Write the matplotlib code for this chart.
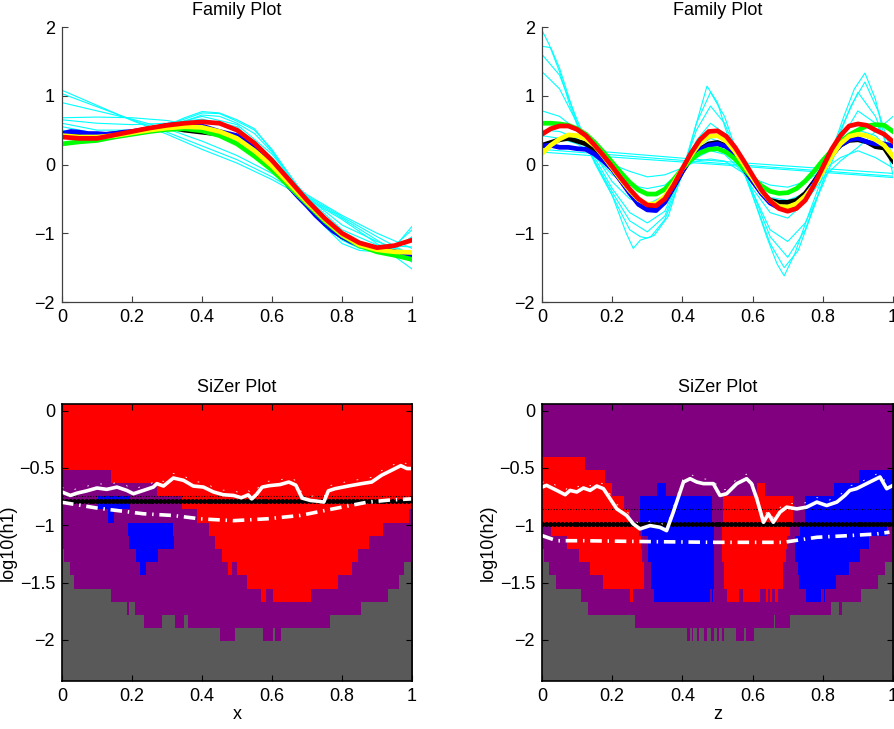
import numpy as np
import matplotlib
matplotlib.use('Agg')
import matplotlib.pyplot as plt
from matplotlib.colors import ListedColormap

plt.rcParams['font.family'] = ['Liberation Sans', 'DejaVu Sans']
plt.rcParams['font.size'] = 13

# ---------------- family plots : sample positions ----------------
x20 = [0, 0.05, 0.1, 0.15, 0.2, 0.25, 0.3, 0.35, 0.4, 0.45, 0.5,
       0.55, 0.6, 0.65, 0.7, 0.75, 0.8, 0.85, 0.9, 0.95, 1.0]
x10 = [0, 0.1, 0.2, 0.3, 0.4, 0.5, 0.6, 0.7, 0.8, 0.9, 1.0]
x40 = [0, 0.025, 0.05, 0.075, 0.1, 0.125, 0.15, 0.175, 0.2, 0.225, 0.25,
       0.275, 0.3, 0.325, 0.35, 0.375, 0.4, 0.425, 0.45, 0.475, 0.5,
       0.525, 0.55, 0.575, 0.6, 0.625, 0.65, 0.675, 0.7, 0.725, 0.75,
       0.775, 0.8, 0.825, 0.85, 0.875, 0.9, 0.925, 0.95, 0.975, 1.0]

# left family plot (x), cyan family of smooths
cyan_left = [
    (x10, [1.08, 0.86, 0.64, 0.44, 0.22, 0.02, -0.22, -0.50, -0.80, -1.15, -1.52]),
    (x10, [1.03, 0.84, 0.65, 0.47, 0.27, 0.07, -0.18, -0.48, -0.78, -1.10, -1.42]),
    (x10, [0.90, 0.78, 0.66, 0.52, 0.34, 0.13, -0.13, -0.46, -0.76, -1.05, -1.32]),
    (x10, [0.68, 0.69, 0.68, 0.64, 0.55, 0.30, -0.04, -0.44, -0.74, -1.00, -1.22]),
    (x10, [0.65, 0.60, 0.58, 0.60, 0.66, 0.55, 0.10, -0.47, -0.88, -1.12, -1.30]),
    (x10, [0.60, 0.50, 0.50, 0.57, 0.70, 0.58, 0.15, -0.48, -0.95, -1.17, -1.20]),
    (x20, [0.55, 0.50, 0.45, 0.45, 0.47, 0.51, 0.56, 0.63, 0.72, 0.70, 0.60, 0.45, 0.18,
           -0.15, -0.50, -0.82, -1.05, -1.17, -1.22, -1.22, -1.05]),
    (x20, [0.45, 0.42, 0.40, 0.41, 0.45, 0.51, 0.58, 0.66, 0.75, 0.74, 0.63, 0.50, 0.22,
           -0.15, -0.52, -0.85, -1.10, -1.22, -1.25, -1.18, -0.95]),
    (x20, [0.50, 0.45, 0.38, 0.38, 0.45, 0.50, 0.57, 0.68, 0.77, 0.75, 0.65, 0.52, 0.20,
           -0.20, -0.55, -0.90, -1.15, -1.25, -1.27, -1.20, -0.90]),
]

black_left = [0.42, 0.44, 0.42, 0.45, 0.47, 0.50, 0.55, 0.50, 0.47, 0.44, 0.40,
              0.22, 0.00, -0.30, -0.58, -0.85, -1.05, -1.15, -1.22, -1.27, -1.30]
blue_left = [0.45, 0.48, 0.47, 0.45, 0.45, 0.44, 0.45, 0.47, 0.48, 0.50, 0.52,
             0.54, 0.57, 0.58, 0.59, 0.57, 0.56, 0.52, 0.48, 0.45, 0.42,
             0.35, 0.24, 0.10, -0.03, -0.17, -0.33, -0.47, -0.60, -0.74, -0.86,
             -0.97, -1.05, -1.12, -1.17, -1.20, -1.23, -1.26, -1.27, -1.30, -1.33]
green_left = [0.30, 0.33, 0.35, 0.40, 0.44, 0.48, 0.51, 0.52, 0.49, 0.42, 0.30,
              0.12, -0.08, -0.32, -0.57, -0.82, -1.03, -1.18, -1.27, -1.32, -1.38]
yellow_left = [0.42, 0.40, 0.40, 0.42, 0.46, 0.50, 0.53, 0.55, 0.54, 0.48, 0.38,
               0.20, -0.02, -0.28, -0.55, -0.80, -1.02, -1.17, -1.24, -1.27, -1.28]
red_left = [0.40, 0.38, 0.38, 0.43, 0.48, 0.53, 0.57, 0.60, 0.62, 0.60, 0.50,
            0.31, 0.06, -0.23, -0.52, -0.78, -1.00, -1.14, -1.21, -1.18, -1.10]

# right family plot (z)
cyan_right = [
    ([0, 0.02, 0.05, 0.08, 0.12, 0.15, 0.2, 0.24, 0.26, 0.28, 0.31, 0.35, 0.4, 0.44, 0.47,
      0.5, 0.53, 0.56, 0.6, 0.64, 0.67, 0.69, 0.72, 0.76, 0.81, 0.86, 0.89, 0.92, 0.95, 0.98, 1.0],
     [1.95, 1.75, 1.35, 0.85, 0.30, 0.05, -0.45, -1.00, -1.22, -1.10, -1.05, -0.80, -0.15, 0.60, 1.14,
      0.90, 0.40, 0.10, -0.45, -1.05, -1.45, -1.62, -1.30, -0.72, -0.03, 0.70, 1.10, 1.33, 0.95, 0.30, -0.15]),
    ([0, 0.025, 0.05, 0.1, 0.15, 0.2, 0.25, 0.28, 0.3, 0.32, 0.36, 0.4, 0.44, 0.48, 0.52, 0.56,
      0.6, 0.65, 0.69, 0.73, 0.78, 0.83, 0.88, 0.92, 0.96, 1.0],
     [1.72, 1.70, 1.40, 0.60, 0.02, -0.45, -0.95, -1.05, -1.07, -1.03, -0.75, -0.10, 0.60, 1.05, 0.70, 0.10,
      -0.45, -1.15, -1.50, -1.25, -0.55, 0.20, 0.85, 1.20, 0.75, 0.10]),
    ([0, 0.05, 0.1, 0.15, 0.2, 0.25, 0.3, 0.35, 0.4, 0.44, 0.48, 0.52, 0.56, 0.6, 0.65, 0.7,
      0.75, 0.8, 0.85, 0.9, 0.95, 1.0],
     [1.60, 1.30, 0.65, 0.05, -0.40, -0.82, -0.98, -0.75, -0.10, 0.50, 0.85, 0.60, 0.10, -0.40, -1.05, -1.35,
      -0.95, -0.25, 0.50, 1.05, 0.70, 0.05]),
    ([0, 0.05, 0.1, 0.15, 0.2, 0.25, 0.3, 0.35, 0.4, 0.44, 0.48, 0.52, 0.56, 0.6, 0.65, 0.7,
      0.75, 0.8, 0.85, 0.9, 0.95, 1.0],
     [1.35, 1.10, 0.60, 0.10, -0.35, -0.70, -0.85, -0.68, -0.10, 0.35, 0.60, 0.45, 0.05, -0.40, -0.95, -1.12,
      -0.85, -0.30, 0.35, 0.78, 0.60, 0.25]),
    ([0, 0.05, 0.1, 0.15, 0.2, 0.25, 0.3, 0.35, 0.4, 0.44, 0.48, 0.52, 0.56, 0.6, 0.65, 0.7,
      0.75, 0.8, 0.85, 0.9, 0.95, 1.0],
     [0.78, 0.70, 0.50, 0.15, -0.25, -0.50, -0.58, -0.45, -0.08, 0.25, 0.38, 0.30, 0.00, -0.35, -0.70, -0.78,
      -0.55, -0.20, 0.05, 0.25, 0.48, 0.70]),
    ([0, 0.05, 0.1, 0.15, 0.2, 0.25, 0.3, 0.35, 0.4, 0.44, 0.48, 0.52, 0.56, 0.6, 0.65, 0.7,
      0.75, 0.8, 0.85, 0.9, 0.95, 1.0],
     [0.50, 0.48, 0.38, 0.12, -0.15, -0.30, -0.35, -0.30, -0.08, 0.10, 0.20, 0.15, -0.05, -0.28, -0.48, -0.52,
      -0.42, -0.10, 0.25, 0.50, 0.42, 0.15]),
    ([0, 0.05, 0.1, 0.15, 0.2, 0.25, 0.3, 0.35, 0.4, 0.44, 0.48, 0.52, 0.56, 0.6, 0.65, 0.7,
      0.75, 0.8, 0.85, 0.9, 0.95, 1.0],
     [0.42, 0.38, 0.30, 0.15, 0.00, -0.10, -0.18, -0.15, -0.05, 0.05, 0.08, 0.05, -0.08, -0.20, -0.30, -0.33,
      -0.25, -0.08, 0.10, 0.20, 0.10, -0.05]),
    ([0, 0.5, 1.0], [0.22, 0.02, -0.17]),
    ([0, 0.5, 1.0], [0.18, 0.00, -0.19]),
    ([0, 0.5, 1.0], [0.26, 0.05, -0.13]),
]

black_right = [0.28, 0.32, 0.36, 0.38, 0.34, 0.30, 0.20, 0.08, -0.06, -0.23, -0.40,
               -0.56, -0.64, -0.65, -0.54, -0.32, -0.10, 0.10, 0.22, 0.30, 0.32,
               0.27, 0.12, -0.06, -0.24, -0.40, -0.52, -0.55, -0.55, -0.52, -0.42,
               -0.25, -0.06, 0.14, 0.28, 0.35, 0.36, 0.33, 0.26, 0.24, 0.05]
blue_right = [0.27, 0.28, 0.25, 0.25, 0.23, 0.22, 0.15, 0.05, -0.07, -0.24, -0.42,
              -0.58, -0.66, -0.67, -0.55, -0.33, -0.10, 0.10, 0.22, 0.28, 0.30,
              0.26, 0.13, -0.05, -0.24, -0.42, -0.56, -0.63, -0.66, -0.60, -0.46,
              -0.27, -0.06, 0.14, 0.28, 0.36, 0.38, 0.33, 0.30, 0.30, 0.27]
green_right = [0.60, 0.60, 0.59, 0.57, 0.52, 0.44, 0.32, 0.18, 0.03, -0.12, -0.26,
               -0.37, -0.43, -0.43, -0.36, -0.22, -0.06, 0.07, 0.17, 0.22, 0.23,
               0.18, 0.08, -0.06, -0.19, -0.31, -0.39, -0.42, -0.41, -0.35, -0.24,
               -0.10, 0.06, 0.20, 0.33, 0.43, 0.50, 0.56, 0.58, 0.57, 0.48]
yellow_right = [0.16, 0.28, 0.37, 0.43, 0.42, 0.37, 0.27, 0.12, -0.05, -0.22, -0.38,
                -0.51, -0.58, -0.57, -0.46, -0.27, -0.06, 0.14, 0.31, 0.41, 0.42,
                0.34, 0.19, 0.00, -0.20, -0.39, -0.53, -0.61, -0.62, -0.57, -0.46,
                -0.30, -0.10, 0.12, 0.30, 0.41, 0.44, 0.42, 0.36, 0.28, 0.12]
red_right = [0.44, 0.52, 0.56, 0.56, 0.51, 0.42, 0.28, 0.13, -0.03, -0.20, -0.36,
             -0.50, -0.59, -0.60, -0.50, -0.30, -0.06, 0.17, 0.36, 0.48, 0.49,
             0.41, 0.25, 0.05, -0.16, -0.37, -0.53, -0.64, -0.68, -0.64, -0.52,
             -0.30, -0.04, 0.22, 0.42, 0.56, 0.59, 0.57, 0.50, 0.44, 0.33]

# ---------------- SiZer maps ----------------
# rows from largest bandwidth (top) to smallest; each row = (right edge, class)
# classes: R increasing, B decreasing, P not significant, G too sparse
sizer_left = [
    [(1, 'R')],
    [(1, 'R')],
    [(1, 'R')],
    [(1, 'R')],
    [(1, 'R')],
    [(0.139, 'P'), (1, 'R')],
    [(0.271, 'P'), (1, 'R')],
    [(0.103, 'P'), (0.193, 'B'), (0.343, 'P'), (1, 'R')],
    [(0.131, 'P'), (0.149, 'B'), (0.384, 'P'), (0.988, 'R'), (1, 'P')],
    [(0.187, 'P'), (0.317, 'B'), (0.419, 'P'), (0.916, 'R'), (1, 'P')],
    [(0.191, 'P'), (0.32, 'B'), (0.436, 'P'), (0.875, 'R'), (1, 'P')],
    [(0.006, 'G'), (0.21, 'P'), (0.274, 'B'), (0.457, 'P'), (0.843, 'R'), (0.994, 'P'), (1, 'G')],
    [(0.022, 'G'), (0.222, 'P'), (0.239, 'B'), (0.474, 'P'), (0.486, 'R'), (0.499, 'P'),
     (0.825, 'R'), (0.975, 'P'), (1, 'G')],
    [(0.034, 'G'), (0.527, 'P'), (0.785, 'R'), (0.96, 'P'), (1, 'G')],
    [(0.139, 'G'), (0.566, 'P'), (0.58, 'R'), (0.601, 'P'), (0.711, 'R'), (0.93, 'P'), (1, 'G')],
    [(0.186, 'G'), (0.19, 'P'), (0.209, 'G'), (0.851, 'P'), (1, 'G')],
    [(0.234, 'G'), (0.284, 'P'), (0.322, 'G'), (0.348, 'P'), (0.358, 'G'), (0.763, 'P'), (1, 'G')],
    [(0.449, 'G'), (0.493, 'P'), (0.572, 'G'), (0.602, 'P'), (0.607, 'G'), (0.625, 'P'), (1, 'G')],
    [(1, 'G')],
    [(1, 'G')],
    [(1, 'G')],
]

sizer_right = [
    [(1, 'P')],
    [(1, 'P')],
    [(1, 'P')],
    [(1, 'P')],
    [(0.122, 'R'), (1, 'P')],
    [(0.179, 'R'), (0.90, 'P'), (1, 'B')],
    [(0.20, 'R'), (0.328, 'P'), (0.352, 'B'), (0.61, 'P'), (0.632, 'R'), (0.83, 'P'), (1, 'B')],
    [(0.232, 'R'), (0.277, 'P'), (0.482, 'B'), (0.515, 'P'), (0.713, 'R'), (0.747, 'P'), (1, 'B')],
    [(0.25, 'R'), (0.277, 'P'), (0.482, 'B'), (0.515, 'P'), (0.713, 'R'), (0.747, 'P'), (1, 'B')],
    [(0.025, 'P'), (0.274, 'R'), (0.285, 'P'), (0.49, 'B'), (0.51, 'P'), (0.704, 'R'),
     (0.733, 'P'), (0.981, 'B'), (1, 'P')],
    [(0.07, 'P'), (0.28, 'R'), (0.302, 'P'), (0.49, 'B'), (0.51, 'P'), (0.697, 'R'),
     (0.718, 'P'), (0.928, 'B'), (1, 'P')],
    [(0.006, 'G'), (0.105, 'P'), (0.284, 'R'), (0.302, 'P'), (0.49, 'B'), (0.51, 'P'),
     (0.692, 'R'), (0.718, 'P'), (0.902, 'B'), (0.995, 'P'), (1, 'G')],
    [(0.02, 'G'), (0.137, 'P'), (0.289, 'R'), (0.311, 'P'), (0.49, 'B'), (0.518, 'P'),
     (0.684, 'R'), (0.727, 'P'), (0.873, 'B'), (0.975, 'P'), (1, 'G')],
    [(0.041, 'G'), (0.173, 'P'), (0.289, 'R'), (0.311, 'P'), (0.49, 'B'), (0.518, 'P'),
     (0.684, 'R'), (0.73, 'P'), (0.836, 'B'), (0.955, 'P'), (1, 'G')],
    [(0.112, 'G'), (0.251, 'P'), (0.258, 'R'), (0.319, 'P'), (0.478, 'B'), (0.482, 'P'),
     (0.486, 'B'), (0.526, 'P'), (0.561, 'R'), (0.571, 'P'), (0.62, 'R'), (0.637, 'P'),
     (0.642, 'R'), (0.647, 'P'), (0.652, 'R'), (0.661, 'P'), (0.669, 'R'), (0.751, 'P'),
     (0.792, 'B'), (0.80, 'P'), (0.805, 'B'), (0.906, 'P'), (1, 'G')],
    [(0.131, 'G'), (0.82, 'P'), (0.843, 'G'), (0.852, 'P'), (1, 'G')],
    [(0.264, 'G'), (0.659, 'P'), (0.663, 'G'), (0.704, 'P'), (1, 'G')],
    [(0.411, 'G'), (0.421, 'P'), (0.426, 'G'), (0.43, 'P'), (0.44, 'G'), (0.445, 'P'),
     (0.46, 'G'), (0.47, 'P'), (0.479, 'G'), (0.488, 'P'), (0.498, 'G'), (0.502, 'P'),
     (0.512, 'G'), (0.517, 'P'), (0.55, 'G'), (0.574, 'P'), (0.581, 'G'), (0.602, 'P'), (1, 'G')],
    [(1, 'G')],
    [(1, 'G')],
    [(1, 'G')],
]

# log10 bandwidth range of the map (row edges, top and bottom)
logh_top = 0.0575
logh_bottom = -2.3585

# overlay curves on the SiZer maps
white_x_left = [0, 0.024, 0.043, 0.071, 0.1, 0.128, 0.157, 0.185, 0.204, 0.233, 0.261, 0.271,
                0.29, 0.318, 0.347, 0.375, 0.404, 0.433, 0.461, 0.49, 0.512, 0.532, 0.542,
                0.556, 0.572, 0.592, 0.623, 0.648, 0.668, 0.686, 0.71, 0.73, 0.748, 0.761,
                0.78, 0.818, 0.856, 0.885, 0.913, 0.942, 0.968, 0.985, 1.0]
white_y_left = [-0.71, -0.74, -0.72, -0.70, -0.675, -0.687, -0.667, -0.696, -0.725, -0.696,
                -0.667, -0.637, -0.658, -0.588, -0.608, -0.658, -0.667, -0.71, -0.734, -0.74,
                -0.76, -0.735, -0.77, -0.73, -0.667, -0.655, -0.645, -0.623, -0.65, -0.763,
                -0.784, -0.79, -0.798, -0.70, -0.681, -0.658, -0.637, -0.623, -0.564, -0.52,
                -0.48, -0.505, -0.506]
dash_x_left = [0, 0.1, 0.233, 0.318, 0.394, 0.49, 0.585, 0.68, 0.775, 0.87, 0.936, 1.0]
dash_y_left = [-0.80, -0.85, -0.90, -0.915, -0.944, -0.96, -0.944, -0.915, -0.857, -0.80,
               -0.78, -0.77]
hsel_left = -0.786
hdot_left = -0.749

white_x_right = [0, 0.013, 0.042, 0.066, 0.08, 0.099, 0.118, 0.137, 0.156, 0.175, 0.194,
                 0.213, 0.241, 0.26, 0.279, 0.308, 0.336, 0.355, 0.374, 0.403, 0.422, 0.441,
                 0.46, 0.488, 0.507, 0.526, 0.555, 0.583, 0.597, 0.612, 0.631, 0.645, 0.659,
                 0.678, 0.697, 0.726, 0.754, 0.783, 0.811, 0.84, 0.863, 0.877, 0.896, 0.934,
                 0.963, 0.982, 1.0]
white_y_right = [-0.667, -0.652, -0.696, -0.734, -0.696, -0.71, -0.675, -0.696, -0.658,
                 -0.681, -0.769, -0.857, -0.915, -0.988, -1.032, -1.003, -1.018, -1.047,
                 -0.886, -0.623, -0.594, -0.623, -0.637, -0.637, -0.74, -0.725, -0.637,
                 -0.594, -0.637, -0.769, -0.974, -0.90, -0.974, -0.886, -0.842, -0.857,
                 -0.842, -0.798, -0.828, -0.798, -0.74, -0.696, -0.681, -0.623, -0.579,
                 -0.681, -0.652]
dash_x_right = [0, 0.042, 0.118, 0.308, 0.498, 0.688, 0.783, 0.877, 0.953, 0.99]
dash_y_right = [-1.09, -1.135, -1.135, -1.143, -1.149, -1.149, -1.105, -1.09, -1.076, -1.06]
hsel_right = -0.985
hdot_right = -0.857

xticks = [0, 0.2, 0.4, 0.6, 0.8, 1]
xticklabels = ['0', '0.2', '0.4', '0.6', '0.8', '1']
fam_yticks = [-2, -1, 0, 1, 2]
fam_yticklabels = ['\u22122', '\u22121', '0', '1', '2']
siz_yticks = [-2, -1.5, -1, -0.5, 0]
siz_yticklabels = ['\u22122', '\u22121.5', '\u22121', '\u22120.5', '0']

CLASS_ID = {'R': 0, 'B': 1, 'P': 2, 'G': 3}
sizer_cmap = ListedColormap(['#ff0000', '#0000ff', '#800080', '#595959'])


def sizer_image(rows, ncol=1400):
    """Turn the per-row segment lists into a class image"""
    img = np.zeros((len(rows), ncol))
    xc = (np.arange(ncol) + 0.5) / ncol
    for i, segs in enumerate(rows):
        start = 0.0
        for end, cls in segs:
            img[i, (xc >= start) & (xc < end)] = CLASS_ID[cls]
            start = end
    return img


def family_plot(ax, cyan, xs, black, blue, green, yellow, red):
    for cx, cy in cyan:
        ax.plot(cx, cy, color='#00ffff', lw=0.8)
    ax.plot(xs, black, color='black', lw=3.4)
    ax.plot(xs if len(blue) == len(xs) else x40, blue, color='#0000ff', lw=3.4)
    ax.plot(xs, green, color='#00ff00', lw=3.4)
    ax.plot(xs, yellow, color='#ffff00', lw=3.4)
    ax.plot(xs, red, color='#ff0000', lw=3.4)
    ax.set_xlim(0, 1)
    ax.set_ylim(-2, 2)
    ax.set_title('Family Plot', fontsize=13, pad=9)
    ax.spines['top'].set_visible(False)
    ax.spines['right'].set_visible(False)
    for s in ('left', 'bottom'):
        ax.spines[s].set_color('#404040')
        ax.spines[s].set_linewidth(0.9)
    ax.set_xticks(xticks)
    ax.set_xticklabels(xticklabels)
    ax.set_yticks(fam_yticks)
    ax.set_yticklabels(fam_yticklabels)
    ax.tick_params(direction='in', length=4, width=0.8, color='#404040', labelsize=13, pad=5)


def sizer_plot(ax, rows, wx, wy, dx, dy, hsel, hdot, xlabel, ylabel):
    ax.imshow(sizer_image(rows), cmap=sizer_cmap, vmin=-0.5, vmax=3.5,
              extent=[0, 1, logh_bottom, logh_top], aspect='auto',
              interpolation='nearest', origin='upper')
    ax.axhline(hdot, color='black', lw=0.8, ls=(0, (1, 1.5)))
    hx = np.linspace(0, 1, 90)
    ax.plot(hx, np.full(hx.shape, hsel), color='black', lw=2.0, marker='o', ms=2.6)
    # faint short strokes around the solid curve
    ax.plot(wx, np.array(wy) + 0.04, color='white', lw=0.6, ls=(0, (2, 14)))
    ax.plot(wx, wy, color='white', lw=2.6)
    ax.plot(dx, dy, color='white', lw=2.6, ls=(0, (3.2, 1.6, 0.4, 1.6)))
    ax.set_xlim(0, 1)
    ax.set_ylim(logh_bottom, logh_top)
    ax.set_title('SiZer Plot', fontsize=13, pad=9)
    ax.set_xlabel(xlabel, fontsize=13, labelpad=1)
    ax.set_ylabel(ylabel, fontsize=13, labelpad=2)
    ax.set_xticks(xticks)
    ax.set_xticklabels(xticklabels)
    ax.set_yticks(siz_yticks)
    ax.set_yticklabels(siz_yticklabels)
    ax.tick_params(direction='in', length=4, width=0.8, top=True, right=True,
                   labelsize=13, pad=5)
    for s in ax.spines.values():
        s.set_linewidth(1.2)
        s.set_color('black')


fig = plt.figure(figsize=(8.94, 7.29), dpi=100)
ax1 = fig.add_axes([0.06935, 0.58573, 0.39150, 0.37723])
ax2 = fig.add_axes([0.60626, 0.58573, 0.39262, 0.37723])
ax3 = fig.add_axes([0.06935, 0.06584, 0.39150, 0.37997])
ax4 = fig.add_axes([0.60626, 0.06584, 0.39262, 0.37997])

family_plot(ax1, cyan_left, x20, black_left, blue_left, green_left, yellow_left, red_left)
family_plot(ax2, cyan_right, x40, black_right, blue_right, green_right, yellow_right, red_right)
sizer_plot(ax3, sizer_left, white_x_left, white_y_left, dash_x_left, dash_y_left,
           hsel_left, hdot_left, 'x', 'log10(h1)')
sizer_plot(ax4, sizer_right, white_x_right, white_y_right, dash_x_right, dash_y_right,
           hsel_right, hdot_right, 'z', 'log10(h2)')

fig.savefig('out.png', dpi=100)
